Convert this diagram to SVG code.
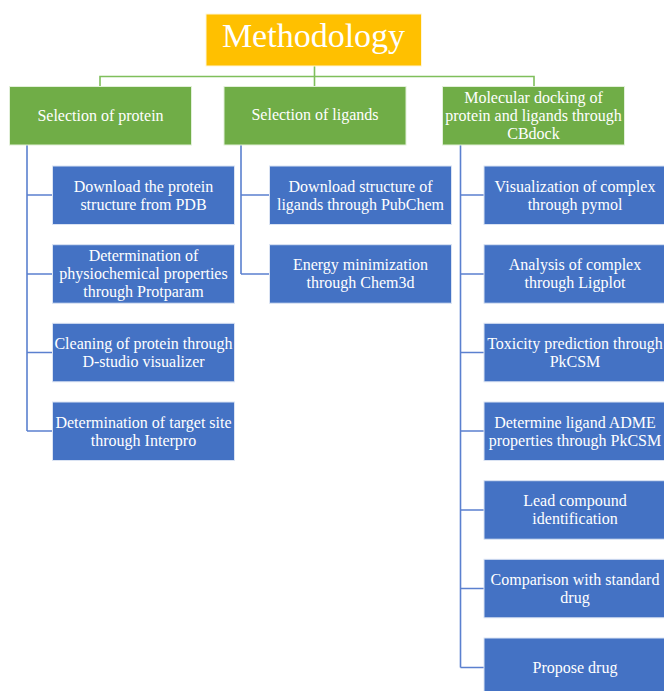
<svg xmlns="http://www.w3.org/2000/svg" width="664" height="691" viewBox="0 0 664 691">
<style>
text{font-family:"Liberation Serif","Times New Roman",serif;fill:#ffffff;text-anchor:middle}
.t{font-size:34px}
.l{font-size:16px}
.title{fill:#FFC000;stroke:#fff5d6;stroke-width:1}
.g{fill:#70AD47;stroke:#e2f0d9;stroke-width:1}
.b{fill:#4472C4;stroke:#dae3f3;stroke-width:1}
.gc{fill:none;stroke:#7fbf5c;stroke-width:1.6}
.bc{fill:none;stroke:#5b80cf;stroke-width:1.6}
</style>
<rect width="664" height="691" fill="#ffffff"/>
<g id="connectors">
<path class="gc" d="M314.5 66V86M100 86V76.5H534V86"/>
<path class="bc" d="M27 145V431M27 195H52.5M27 274H52.5M27 352.5H52.5M27 431H52.5"/>
<path class="bc" d="M241 145V274M241 195H269.5M241 274H269.5"/>
<path class="bc" d="M460.5 145V667.5M460.5 195H484M460.5 274H484M460.5 352.5H484M460.5 431H484M460.5 510H484M460.5 588.5H484M460.5 667.5H484"/>
</g>
<g id="methodology"><rect class="title" x="206" y="14" width="215.5" height="52"/><text class="t" x="313.5" y="47">Methodology</text></g>
<g id="sel-protein"><rect class="g" x="9.5" y="86.5" width="182" height="58.5"/><text class="l" x="100.5" y="121">Selection of protein</text></g>
<g id="sel-ligands"><rect class="g" x="224" y="86.5" width="182" height="58.5"/><text class="l" x="315" y="119.5">Selection of ligands</text></g>
<g id="docking"><rect class="g" x="442.5" y="86.5" width="182" height="58.5"/><text class="l" x="533.5" y="102.8">Molecular docking of</text><text class="l" x="533.5" y="120.8">protein and ligands through</text><text class="l" x="533.5" y="138.8">CBdock</text></g>

<g id="p1"><rect class="b" x="52.5" y="166" width="182" height="58.5"/><text class="l" x="143.5" y="191.5">Download the protein</text><text class="l" x="143.5" y="209.5">structure from PDB</text></g>
<g id="p2"><rect class="b" x="52.5" y="244.7" width="182" height="58.5"/><text class="l" x="143.5" y="261">Determination of</text><text class="l" x="143.5" y="279">physiochemical properties</text><text class="l" x="143.5" y="297">through Protparam</text></g>
<g id="p3"><rect class="b" x="52.5" y="323.3" width="182" height="58.5"/><text class="l" x="143.5" y="349">Cleaning of protein through</text><text class="l" x="143.5" y="367">D-studio visualizer</text></g>
<g id="p4"><rect class="b" x="52.5" y="402" width="182" height="58.5"/><text class="l" x="143.5" y="427.5">Determination of target site</text><text class="l" x="143.5" y="445.5">through Interpro</text></g>

<g id="l1"><rect class="b" x="269.5" y="166" width="182" height="58.5"/><text class="l" x="360.5" y="191.5">Download structure of</text><text class="l" x="360.5" y="209.5">ligands through PubChem</text></g>
<g id="l2"><rect class="b" x="269.5" y="244.7" width="182" height="58.5"/><text class="l" x="360.5" y="270">Energy minimization</text><text class="l" x="360.5" y="288">through Chem3d</text></g>

<g id="d1"><rect class="b" x="484" y="166" width="182" height="58.5"/><text class="l" x="575" y="191.5">Visualization of complex</text><text class="l" x="575" y="209.5">through pymol</text></g>
<g id="d2"><rect class="b" x="484" y="244.7" width="182" height="58.5"/><text class="l" x="575" y="270">Analysis of complex</text><text class="l" x="575" y="288">through Ligplot</text></g>
<g id="d3"><rect class="b" x="484" y="323.3" width="182" height="58.5"/><text class="l" x="575" y="349">Toxicity prediction through</text><text class="l" x="575" y="367">PkCSM</text></g>
<g id="d4"><rect class="b" x="484" y="402" width="182" height="58.5"/><text class="l" x="575" y="427.5">Determine ligand ADME</text><text class="l" x="575" y="445.5">properties through PkCSM</text></g>
<g id="d5"><rect class="b" x="484" y="480.7" width="182" height="58.5"/><text class="l" x="575" y="506">Lead compound</text><text class="l" x="575" y="524">identification</text></g>
<g id="d6"><rect class="b" x="484" y="559.3" width="182" height="58.5"/><text class="l" x="575" y="585">Comparison with standard</text><text class="l" x="575" y="603">drug</text></g>
<g id="d7"><rect class="b" x="484" y="638" width="182" height="58.5"/><text class="l" x="575" y="673">Propose drug</text></g>
</svg>
